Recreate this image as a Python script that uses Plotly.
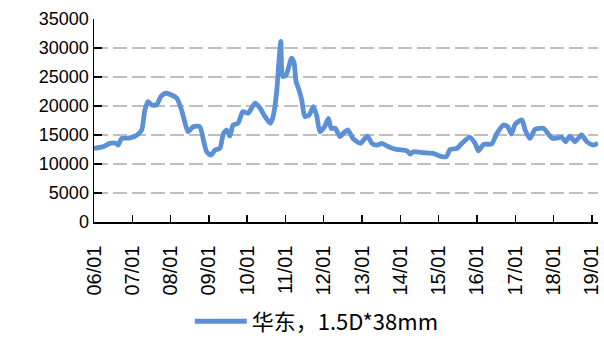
import plotly.graph_objects as go

dates = [
    "2006-01-01", "2006-04-01", "2006-06-01", "2006-08-01", "2006-08-20", "2006-09-20",
    "2006-12-10", "2007-02-15", "2007-04-01", "2007-05-01", "2007-06-01", "2007-07-05",
    "2007-08-20", "2007-10-05", "2007-11-20", "2008-01-10", "2008-03-01", "2008-04-15",
    "2008-05-15", "2008-06-15", "2008-08-05", "2008-10-05", "2008-11-10", "2008-12-10",
    "2009-01-20", "2009-03-01", "2009-04-15", "2009-05-20", "2009-06-20", "2009-07-20",
    "2009-08-20", "2009-10-05", "2009-11-20", "2010-01-10", "2010-03-15", "2010-05-05",
    "2010-06-20", "2010-08-10", "2010-09-05", "2010-10-08", "2010-11-01", "2010-11-18",
    "2010-12-05", "2011-01-08", "2011-03-01", "2011-03-25", "2011-04-12", "2011-05-10",
    "2011-06-05", "2011-07-05", "2011-08-15", "2011-09-25", "2011-10-28", "2011-11-25",
    "2012-01-10", "2012-02-15", "2012-03-12", "2012-04-20", "2012-06-05", "2012-07-05",
    "2012-08-20", "2012-10-05", "2012-12-15", "2013-02-20", "2013-04-05", "2013-05-25",
    "2013-07-10", "2013-09-10", "2013-11-25", "2014-02-01", "2014-03-05", "2014-04-05",
    "2014-05-05", "2014-08-10", "2014-11-10", "2015-01-15", "2015-03-15", "2015-04-20",
    "2015-06-25", "2015-08-10", "2015-10-25", "2015-12-15", "2016-01-15", "2016-03-05",
    "2016-05-20", "2016-07-10", "2016-09-10", "2016-10-20", "2016-11-25", "2017-01-01",
    "2017-03-05", "2017-04-05", "2017-05-20", "2017-07-10", "2017-09-25", "2017-12-20",
    "2018-03-20", "2018-04-25", "2018-06-05", "2018-07-25", "2018-09-25", "2018-11-15",
    "2019-01-15", "2019-03-01",
]
values = [
    12700, 13000, 13550, 13550, 13260, 14400,
    14500, 15000, 15860, 19300, 20760, 20180,
    20180, 21740, 22200, 21900, 21340, 19300,
    17300, 15570, 16440, 16440, 14130, 12110,
    11530, 12400, 12690, 15280, 15860, 14820,
    16720, 17010, 19030, 18740, 20470, 19610,
    18170, 17010, 18170, 22200, 27970, 31140,
    25090, 25380, 28260, 27400, 24220, 22780,
    21050, 18170, 18460, 19900, 18170, 15570,
    16440, 17880, 16150, 16150, 14710, 15280,
    15860, 14420, 13550, 14820, 13550, 13260,
    13550, 12980, 12510, 12400, 12280, 11710,
    12110, 11940, 11820, 11360, 11250, 12510,
    12690, 13550, 14590, 13550, 12280, 13380,
    13440, 15280, 16720, 16440, 15170, 16900,
    17590, 15860, 14420, 15970, 16150, 14420,
    14590, 13840, 14820, 13840, 15000, 13840,
    13260, 13550,
]
tick_vals = ["%d-01-01" % y for y in range(2006, 2020)]
tick_text = ["%02d/01" % (y % 100) for y in range(2006, 2020)]
y_ticks = list(range(0, 35001, 5000))
series_name = "华东，1.5D*38mm"

fig = go.Figure()
fig.add_trace(go.Scatter(
    x=dates, y=values, mode="lines", name=series_name,
    line=dict(color="#5B8FD6", width=4.8, shape="spline", smoothing=0.6),
))

font_family = "Liberation Sans, Arial, sans-serif"
fig.update_layout(
    width=604, height=339,
    margin=dict(l=94, r=6, t=19, b=117, autoexpand=False),
    paper_bgcolor="white", plot_bgcolor="white",
    font=dict(family=font_family, size=18, color="black"),
    showlegend=True,
    legend=dict(
        orientation="h", x=0.19, xanchor="left", y=-0.49, yanchor="middle",
        font=dict(family="Noto Sans CJK SC, " + font_family, size=22),
        itemwidth=52,
    ),
    xaxis=dict(
        type="date", automargin=False,
        range=["2006-01-01", "2019-03-01"],
        tickmode="array", tickvals=tick_vals, ticktext=tick_text,
        tickangle=-90, tickfont=dict(size=20), ticklabelstandoff=14,
        showgrid=False, zeroline=False,
        showline=True, linecolor="black", linewidth=1.5,
        ticks="inside", ticklen=7, tickcolor="black", tickwidth=1.5,
    ),
    yaxis=dict(
        automargin=False,
        range=[0, 35000],
        tickmode="array", tickvals=y_ticks,
        ticktext=[str(v) for v in y_ticks],
        showgrid=True, gridcolor="#BFBFBF", gridwidth=1.8, griddash="14px,5px",
        zeroline=False,
        showline=True, linecolor="black", linewidth=1.5,
        ticks="inside", ticklen=8, tickcolor="black", tickwidth=1.5,
    ),
)

fig.write_html(
    "out.html",
    config={"displayModeBar": False, "staticPlot": True},
    post_script="document.body.style.margin='0';",
)
